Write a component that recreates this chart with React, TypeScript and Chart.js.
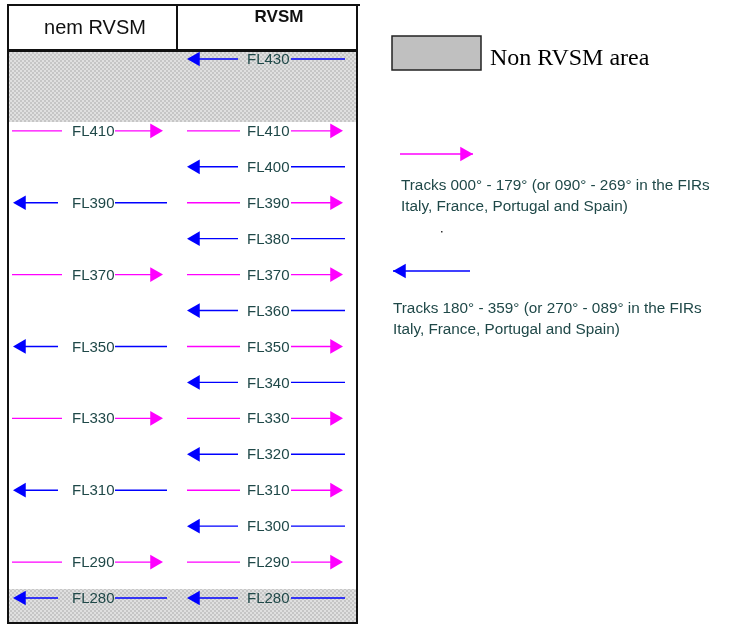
import React, { useEffect, useRef } from "react";
import { Chart, registerables } from "chart.js";

Chart.register(...registerables);

// ---- data ----
const nonRvsmLevels = [410, 390, 370, 350, 330, 310, 290, 280];
const nonRvsmDirections = ["E", "W", "E", "W", "E", "W", "E", "W"];
const rvsmLevels = [430, 410, 400, 390, 380, 370, 360, 350, 340, 330, 320, 310, 300, 290, 280];
const rvsmDirections = ["W", "E", "W", "E", "W", "E", "W", "E", "W", "E", "W", "E", "W", "E", "W"];
const columnTitles = ["nem RVSM", "RVSM"];
const areaLegendText = "Non RVSM area";
const eastLegendText = ["Tracks 000° - 179° (or 090° - 269° in the FIRs", "Italy, France, Portugal and Spain)"];
const westLegendText = ["Tracks 180° - 359° (or 270° - 089° in the FIRs", "Italy, France, Portugal and Spain)"];

// ---- layout / style ----
const W = 741;
const H = 625;
const Y_MIN = 272.49;
const Y_MAX = 446.42;
const HEAD_R = 8.5;
const EAST_COLOR = "#ff00ff";
const WEST_COLOR = "#0000ff";
const TEXT_COLOR = "#1f4848";
const LABEL_FONT = "15px 'Liberation Sans', Arial, sans-serif";

const columns = [
  { levels: nonRvsmLevels, dirs: nonRvsmDirections, east: [12, 62, 115, 163], west: [13, 58, 115, 167], labelX: 72 },
  { levels: rvsmLevels, dirs: rvsmDirections, east: [187, 240, 291, 343], west: [187, 238, 291, 345], labelX: 247 },
];

type P = { x: number; y: number | null; head?: boolean };

function buildPoints(dir: string): P[] {
  const pts: P[] = [];
  columns.forEach((col) => {
    col.levels.forEach((fl, i) => {
      if (col.dirs[i] !== dir) return;
      if (dir === "E") {
        const g = col.east;
        pts.push({ x: g[0], y: fl }, { x: g[1], y: fl }, { x: g[1] + 1, y: null });
        pts.push({ x: g[2], y: fl }, { x: g[3] - HEAD_R, y: fl, head: true }, { x: g[3], y: null });
      } else {
        const g = col.west;
        pts.push({ x: g[0] + HEAD_R, y: fl, head: true }, { x: g[1], y: fl }, { x: g[1] + 1, y: null });
        pts.push({ x: g[2], y: fl }, { x: g[3], y: fl }, { x: g[3] + 1, y: null });
      }
    });
  });
  return pts;
}

function makePattern(ctx: CanvasRenderingContext2D) {
  const p = document.createElement("canvas");
  p.width = 4;
  p.height = 4;
  const c = p.getContext("2d")!;
  c.fillStyle = "#e0e0e0";
  c.fillRect(0, 0, 4, 4);
  c.fillStyle = "#c6c6c6";
  c.fillRect(0, 0, 2, 2);
  c.fillRect(2, 2, 2, 2);
  return ctx.createPattern(p, "repeat");
}

function drawArrow(ctx: CanvasRenderingContext2D, x1: number, x2: number, y: number, color: string, headRight: boolean) {
  ctx.save();
  ctx.strokeStyle = color;
  ctx.fillStyle = color;
  ctx.lineWidth = 1.4;
  ctx.beginPath();
  ctx.moveTo(x1, y);
  ctx.lineTo(x2, y);
  ctx.stroke();
  const tip = headRight ? x2 : x1;
  const s = headRight ? -1 : 1;
  ctx.beginPath();
  ctx.moveTo(tip, y);
  ctx.lineTo(tip + s * HEAD_R * 1.5, y - HEAD_R * 0.866);
  ctx.lineTo(tip + s * HEAD_R * 1.5, y + HEAD_R * 0.866);
  ctx.closePath();
  ctx.fill();
  ctx.restore();
}

const diagramPlugin = {
  id: "diagram",
  beforeDatasetsDraw(chart: any) {
    const ctx: CanvasRenderingContext2D = chart.ctx;
    ctx.save();
    const pat = makePattern(ctx);
    // non-RVSM bands
    ctx.fillStyle = pat || "#d4d4d4";
    ctx.fillRect(9, 52, 349, 70);
    ctx.fillRect(9, 589, 349, 33);
    // table borders
    ctx.strokeStyle = "#111";
    ctx.lineWidth = 2;
    ctx.beginPath();
    ctx.moveTo(8, 5);
    ctx.lineTo(360, 5);
    ctx.moveTo(8, 4);
    ctx.lineTo(8, 624);
    ctx.moveTo(357, 4);
    ctx.lineTo(357, 624);
    ctx.moveTo(8, 623);
    ctx.lineTo(357, 623);
    ctx.moveTo(177, 5);
    ctx.lineTo(177, 50);
    ctx.stroke();
    ctx.lineWidth = 3;
    ctx.beginPath();
    ctx.moveTo(8, 50.5);
    ctx.lineTo(358, 50.5);
    ctx.stroke();
    // header text
    ctx.fillStyle = "#111";
    ctx.textAlign = "center";
    ctx.textBaseline = "alphabetic";
    ctx.font = "20px 'Liberation Sans', Arial, sans-serif";
    ctx.fillText(columnTitles[0], 95, 34);
    ctx.font = "bold 17px 'Liberation Sans', Arial, sans-serif";
    ctx.fillText(columnTitles[1], 279, 22);
    // legend box
    ctx.fillStyle = "#c0c0c0";
    ctx.fillRect(392, 36, 89, 34);
    ctx.strokeStyle = "#222";
    ctx.lineWidth = 1.5;
    ctx.strokeRect(392, 36, 89, 34);
    ctx.fillStyle = "#000";
    ctx.textAlign = "left";
    ctx.font = "24px 'Liberation Serif', 'Times New Roman', serif";
    ctx.fillText(areaLegendText, 490, 65);
    // legend arrows
    drawArrow(ctx, 400, 473, 154, EAST_COLOR, true);
    drawArrow(ctx, 393, 470, 271, WEST_COLOR, false);
    ctx.fillStyle = TEXT_COLOR;
    ctx.font = "15.3px 'Liberation Sans', Arial, sans-serif";
    ctx.fillText(eastLegendText[0], 401, 190);
    ctx.fillText(eastLegendText[1], 401, 211);
    ctx.fillText(westLegendText[0], 393, 313);
    ctx.fillText(westLegendText[1], 393, 334);
    ctx.fillStyle = "#333";
    ctx.fillRect(441, 231, 1.5, 1.5);
    ctx.restore();
  },
  afterDatasetsDraw(chart: any) {
    const ctx: CanvasRenderingContext2D = chart.ctx;
    const xs = chart.scales.x;
    const ys = chart.scales.y;
    ctx.save();
    ctx.fillStyle = TEXT_COLOR;
    ctx.font = LABEL_FONT;
    ctx.textAlign = "left";
    ctx.textBaseline = "middle";
    columns.forEach((col) => {
      col.levels.forEach((fl) => {
        ctx.fillText(`FL${fl}`, xs.getPixelForValue(col.labelX), ys.getPixelForValue(fl) + 1);
      });
    });
    ctx.restore();
  },
};

export default function App() {
  const ref = useRef<HTMLCanvasElement | null>(null);
  useEffect(() => {
    if (!ref.current) return;
    const radius = (c: any) => (c.raw && c.raw.head ? HEAD_R : 0);
    const chart = new Chart(ref.current, {
      type: "line",
      data: {
        datasets: [
          {
            label: "Tracks 000°-179°",
            data: buildPoints("E") as any,
            borderColor: EAST_COLOR,
            backgroundColor: EAST_COLOR,
            borderWidth: 1.4,
            pointStyle: "triangle",
            rotation: 90,
            pointRadius: radius,
            pointHoverRadius: radius,
            pointBorderWidth: 0,
            pointBackgroundColor: EAST_COLOR,
            spanGaps: false,
            tension: 0,
          } as any,
          {
            label: "Tracks 180°-359°",
            data: buildPoints("W") as any,
            borderColor: WEST_COLOR,
            backgroundColor: WEST_COLOR,
            borderWidth: 1.4,
            pointStyle: "triangle",
            rotation: -90,
            pointRadius: radius,
            pointHoverRadius: radius,
            pointBorderWidth: 0,
            pointBackgroundColor: WEST_COLOR,
            spanGaps: false,
            tension: 0,
          } as any,
        ],
      },
      options: {
        animation: false,
        responsive: true,
        maintainAspectRatio: false,
        events: [],
        layout: { padding: 0, autoPadding: false },
        plugins: { legend: { display: false }, tooltip: { enabled: false }, title: { display: false } },
        scales: {
          x: { type: "linear", min: 0, max: W, display: false },
          y: { type: "linear", min: Y_MIN, max: Y_MAX, display: false },
        },
      } as any,
      plugins: [diagramPlugin],
    });
    return () => chart.destroy();
  }, []);
  return (
    <div style={{ position: "absolute", left: 0, top: 0, width: W, height: H, background: "#fff" }}>
      <canvas ref={ref} />
    </div>
  );
}
